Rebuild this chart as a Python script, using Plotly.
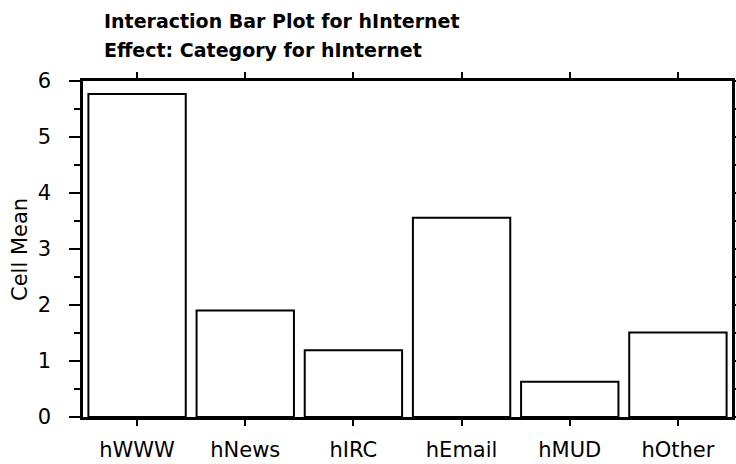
import plotly.graph_objects as go

# Cell means of hInternet by category
categories = ["hWWW", "hNews", "hIRC", "hEmail", "hMUD", "hOther"]
cell_means = [5.77, 1.90, 1.19, 3.56, 0.63, 1.51]
y_ticks = [0, 1, 2, 3, 4, 5, 6]

FONT = "DejaVu Sans"
W, H = 736, 464
ML, MR, MT, MB = 83, 4, 81, 47
plot_w = W - ML - MR
plot_h = H - MT - MB


def px_x(px):
    return (px - ML) / plot_w


def px_y(py):
    return (H - MB - py) / plot_h


fig = go.Figure(
    go.Bar(
        x=categories,
        y=cell_means,
        marker=dict(color="white", line=dict(color="black", width=2)),
        hoverinfo="x+y",
    )
)

fig.update_layout(
    width=W,
    height=H,
    margin=dict(l=ML, r=MR, t=MT, b=MB, pad=0, autoexpand=False),
    plot_bgcolor="white",
    paper_bgcolor="white",
    bargap=0.1,
    showlegend=False,
    font=dict(family=FONT, color="black", size=21),
)

fig.update_xaxes(
    range=[-0.5, 5.5],
    automargin=False,
    showgrid=False,
    showline=True,
    linecolor="black",
    linewidth=2.5,
    mirror="ticks",
    ticks="outside",
    ticklen=6,
    tickwidth=2,
    tickcolor="black",
    tickfont=dict(family=FONT, size=21, color="black"),
    ticklabelstandoff=6,
)

fig.update_yaxes(
    range=[0, 6],
    automargin=False,
    tickvals=y_ticks,
    showgrid=False,
    zeroline=False,
    showline=True,
    linecolor="black",
    linewidth=2.5,
    mirror="ticks",
    ticks="outside",
    ticklen=11,
    tickwidth=2,
    tickcolor="black",
    tickfont=dict(family=FONT, size=21, color="black"),
    ticklabelstandoff=14,
    minor=dict(dtick=0.5, ticks="outside", ticklen=6, tickwidth=2, tickcolor="black"),
)

# Two-line bold title
fig.add_annotation(
    text="<b>Interaction Bar Plot for hInternet</b>",
    xref="paper", yref="paper", x=px_x(102), y=px_y(21),
    xanchor="left", yanchor="middle", showarrow=False,
    font=dict(family=FONT, size=19, color="black"),
)
fig.add_annotation(
    text="<b>Effect: Category for hInternet</b>",
    xref="paper", yref="paper", x=px_x(102), y=px_y(50),
    xanchor="left", yanchor="middle", showarrow=False,
    font=dict(family=FONT, size=19, color="black"),
)

# Y-axis label
fig.add_annotation(
    text="Cell Mean",
    xref="paper", yref="paper", x=px_x(20), y=px_y(250),
    xanchor="center", yanchor="middle", textangle=-90, showarrow=False,
    font=dict(family=FONT, size=21, color="black"),
)

fig.write_html("out.html")
